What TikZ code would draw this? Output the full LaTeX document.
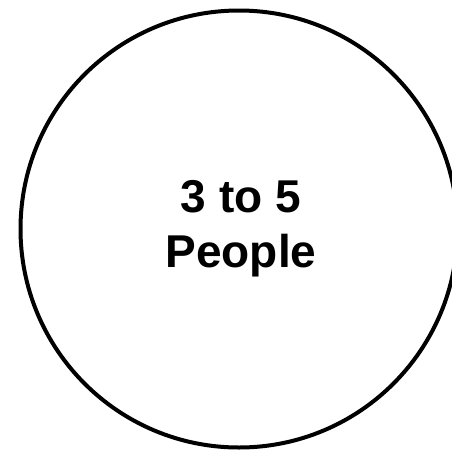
\documentclass[tikz,border=0pt]{standalone}
\usepackage{fontspec}
\setmainfont{Liberation Sans}
\begin{document}
\begin{tikzpicture}[x=1pt,y=-1pt,
  ring/.style={draw=black,line width=4pt,circle,minimum size=437pt,inner sep=0pt},
  label/.style={font=\bfseries\fontsize{46}{55}\selectfont,align=center,text=black}]
\useasboundingbox (0,0) rectangle (452,450);
\node[ring] (c) at (239,229) {};
\node[label] (t) at (241,229) {3 to 5\\People};
\end{tikzpicture}
\end{document}
